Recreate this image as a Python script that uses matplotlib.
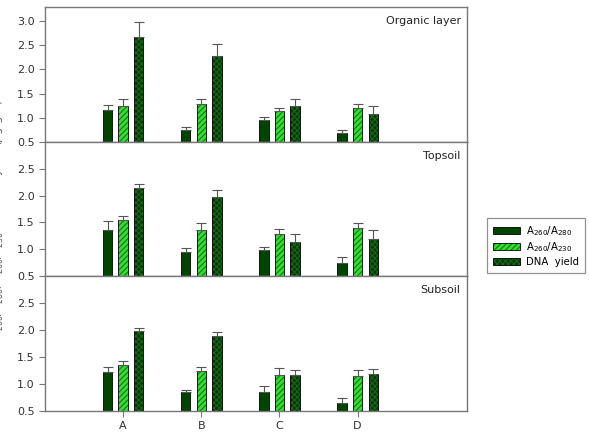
import matplotlib
matplotlib.use("Agg")
import matplotlib.pyplot as plt
import numpy as np

plt.rcParams['hatch.linewidth'] = 0.8

categories = ["A", "B", "C", "D"]
panels = ["Organic layer", "Topsoil", "Subsoil"]
series = ["$\\mathregular{A_{260}/A_{280}}$", "$\\mathregular{A_{260}/A_{230}}$", "DNA  yield"]

org_a280 = [1.16, 0.75, 0.95, 0.68]
org_a280_err = [0.10, 0.06, 0.06, 0.06]
org_a230 = [1.24, 1.29, 1.15, 1.20]
org_a230_err = [0.14, 0.10, 0.06, 0.08]
org_yield = [2.68, 2.28, 1.24, 1.07]
org_yield_err = [0.30, 0.24, 0.14, 0.18]

top_a280 = [1.35, 0.94, 0.98, 0.74]
top_a280_err = [0.17, 0.08, 0.07, 0.11]
top_a230 = [1.54, 1.36, 1.29, 1.39]
top_a230_err = [0.08, 0.12, 0.08, 0.09]
top_yield = [2.15, 1.98, 1.14, 1.19]
top_yield_err = [0.07, 0.12, 0.14, 0.17]

sub_a280 = [1.22, 0.85, 0.84, 0.64]
sub_a280_err = [0.09, 0.03, 0.11, 0.09]
sub_a230 = [1.35, 1.23, 1.17, 1.14]
sub_a230_err = [0.08, 0.08, 0.13, 0.11]
sub_yield = [1.98, 1.88, 1.16, 1.19]
sub_yield_err = [0.06, 0.08, 0.09, 0.08]

data = [
    [(org_a280, org_a280_err), (org_a230, org_a230_err), (org_yield, org_yield_err)],
    [(top_a280, top_a280_err), (top_a230, top_a230_err), (top_yield, top_yield_err)],
    [(sub_a280, sub_a280_err), (sub_a230, sub_a230_err), (sub_yield, sub_yield_err)],
]

face = ["#004400", "#33dd33", "#003800"]
hatches = [None, "//////", "xxxxxx"]
hatch_cols = ["black", "#117711", "#1a661a"]
offsets = [-0.2, 0.0, 0.2]
width = 0.12
spine_col = "#777777"

fig = plt.figure(figsize=(5.89, 4.38), dpi=100)
left, w = 45 / 589, 422 / 589
rects = [(7, 142), (142, 276), (276, 410.7)]
ylims = [(0.5, 3.29), (0.5, 3.0), (0.5, 3.0)]
x = np.arange(1, len(categories) + 1)

handles = None
for i, (t, b) in enumerate(rects):
    ax = fig.add_axes([left, 1 - b / 438, w, (b - t) / 438])
    hs = []
    for j in range(3):
        vals, errs = data[i][j]
        bars = ax.bar(x + offsets[j], np.array(vals) - 0.5, width, bottom=0.5,
                      color=face[j], edgecolor="black", linewidth=0.6, zorder=2)
        for bar in bars:
            if hatches[j]:
                bar.set_hatch(hatches[j])
                bar._hatch_color = matplotlib.colors.to_rgba(hatch_cols[j])
        ax.errorbar(x + offsets[j], vals, yerr=[np.zeros(4), errs], fmt="none",
                    ecolor="#555555", elinewidth=0.8, capsize=3.5, capthick=0.8, zorder=3)
        hs.append(bars)
    handles = hs
    ax.set_xlim(0, 5.4)
    ax.set_ylim(*ylims[i])
    if i == 0:
        ax.set_yticks([0.5, 1.0, 1.5, 2.0, 2.5, 3.0])
    else:
        ax.set_yticks([0.5, 1.0, 1.5, 2.0, 2.5])
    ax.set_yticklabels([f"{v:.1f}" for v in ax.get_yticks()])
    for s in ax.spines.values():
        s.set_color(spine_col)
        s.set_linewidth(1.0)
    ax.tick_params(axis="y", labelsize=8, colors="#333333", length=4, color=spine_col, width=0.8)
    if i < 2:
        ax.set_xticks([])
    else:
        ax.set_xticks(x)
        ax.set_xticklabels(categories)
        ax.tick_params(axis="x", labelsize=8, colors="#333333", length=4, color=spine_col, width=0.8)
    ax.text(0.985, 0.93, panels[i], transform=ax.transAxes, ha="right", va="top",
            fontsize=8, color="#222222")

leg = fig.legend(handles, series, loc="upper left", bbox_to_anchor=(482 / 589, 1 - 213 / 438),
                 fontsize=7.3, frameon=True, fancybox=False, edgecolor=spine_col,
                 handlelength=2.6, handleheight=0.7, borderpad=0.6, labelspacing=0.25,
                 handletextpad=0.6)
leg.get_frame().set_linewidth(0.9)

fig.text(-0.004, 0.5, "$\\mathregular{A_{260}/A_{280}}$, $\\mathregular{A_{260}/A_{230}}$ and DNA yield ($\\mu$g g$^{-1}$)",
         rotation=90, ha="center", va="center", fontsize=8, color="#555555")

fig.savefig("out.png", dpi=100)
